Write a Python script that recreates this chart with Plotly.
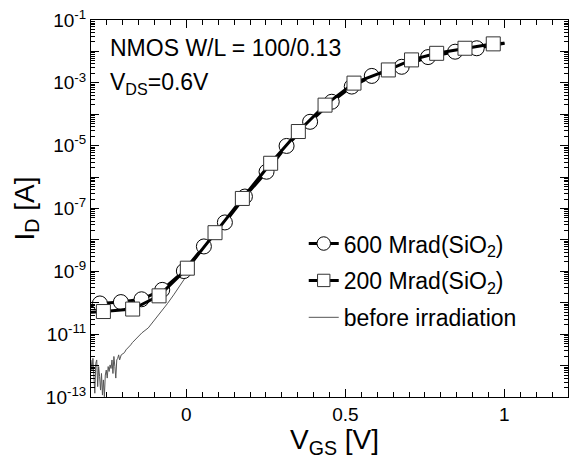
import plotly.graph_objects as go

# ---- data ----
vgs_600 = [-0.300, -0.272, -0.206, -0.141, -0.076, -0.008, 0.055, 0.121, 0.184, 0.252,
           0.315, 0.389, 0.457, 0.520, 0.583, 0.677, 0.760, 0.845, 0.913, 1.000]
id_600 = [7.6e-11, 9.5e-11, 1.05e-10, 1.29e-10, 2.57e-10, 1.02e-9, 6.2e-9, 3.6e-8, 2.4e-7, 1.48e-6,
          9.8e-6, 5.75e-5, 2.5e-4, 7.6e-4, 1.66e-3, 3.24e-3, 6.6e-3, 9.8e-3, 1.26e-2, 1.82e-2]

vgs_200 = [-0.300, -0.261, -0.169, -0.086, 0.003, 0.090, 0.176, 0.265, 0.352, 0.436,
           0.527, 0.635, 0.708, 0.787, 0.876, 0.965, 1.000]
id_200 = [5.0e-11, 5.25e-11, 6.3e-11, 1.66e-10, 1.26e-9, 1.7e-8, 2.09e-7, 2.75e-6, 2.82e-5, 1.95e-4,
          9.8e-4, 2.57e-3, 5.37e-3, 8.7e-3, 1.26e-2, 1.74e-2, 1.82e-2]

vgs_pre = [-0.300, -0.297, -0.294, -0.291, -0.288, -0.285, -0.282, -0.279, -0.276, -0.273,
           -0.270, -0.267, -0.264, -0.261, -0.258, -0.255, -0.252, -0.249, -0.246, -0.243,
           -0.240, -0.237, -0.234, -0.231, -0.228, -0.225, -0.222, -0.219, -0.216, -0.213,
           -0.210, -0.205, -0.200, -0.195, -0.190, -0.185, -0.180, -0.175, -0.170, -0.160,
           -0.150, -0.140, -0.120, -0.100, -0.080, -0.060, -0.040, -0.020, 0.000, 0.020,
           0.050, 0.100, 0.150, 0.200, 0.250, 0.300, 0.350, 0.400, 0.500, 0.600,
           0.700, 0.800, 0.900, 1.000]
id_pre = [1.51e-12, 7.2e-13, 1.70e-12, 3.5e-13, 1.32e-13, 1.17e-12, 1.51e-12, 2.14e-13, 9.3e-13, 4.5e-13,
          1.66e-13, 5.6e-13, 1.15e-13, 3.5e-13, 1.02e-13, 5.0e-13, 7.2e-13, 4.0e-13, 9.3e-13, 6.5e-13,
          1.05e-12, 8.1e-13, 1.51e-12, 5.6e-13, 1.95e-12, 9.3e-13, 4.0e-13, 1.51e-12, 1.70e-12, 2.19e-12,
          1.51e-12, 2.19e-12, 2.34e-12, 2.57e-12, 3.16e-12, 3.55e-12, 3.80e-12, 4.57e-12, 5.37e-12, 6.8e-12,
          8.5e-12, 1.10e-11, 1.58e-11, 2.82e-11, 5.0e-11, 9.3e-11, 1.78e-10, 3.55e-10, 7.1e-10, 1.78e-9,
          5.2e-9, 2.24e-8, 1.0e-7, 4.0e-7, 1.41e-6, 6.3e-6, 2.5e-5, 7.9e-5, 5.6e-4, 1.78e-3,
          4.8e-3, 8.9e-3, 1.41e-2, 1.82e-2]

x_tick_vals = [0, 0.5, 1]
x_tick_text = ["0", "0.5", "1"]
y_exponents = list(range(-13, 0))
y_tick_text = [("10<sup>%d</sup>" % e) if e % 2 != 0 else "" for e in y_exponents]

FONT = "Liberation Sans, Arial, sans-serif"

# plot area in pixels
L, R, T, B = 91, 568, 20, 397
PW, PH = R - L, B - T

def px_x(px):
    return (px - L) / PW

def px_y(py):
    return (B - py) / PH

def marker_sizes(n, s):
    return [0] + [s] * (n - 2) + [0]

fig = go.Figure()
fig.add_trace(go.Scatter(
    x=vgs_pre, y=id_pre, mode="lines", name="before irradiation",
    line=dict(color="#555555", width=1), legendrank=3, legendgroup="c"))
fig.add_trace(go.Scatter(
    x=vgs_600, y=id_600, mode="lines+markers", name="600 Mrad(SiO<sub>2</sub>)",
    line=dict(color="black", width=3),
    marker=dict(symbol="circle", size=marker_sizes(len(vgs_600), 15), color="white", opacity=1,
                line=dict(color="black", width=1)),
    legendrank=1, legendgroup="a"))
fig.add_trace(go.Scatter(
    x=vgs_200, y=id_200, mode="lines+markers", name="200 Mrad(SiO<sub>2</sub>)",
    line=dict(color="black", width=3),
    marker=dict(symbol="square", size=marker_sizes(len(vgs_200), 14), color="white", opacity=1,
                line=dict(color="#333333", width=1)),
    legendrank=2, legendgroup="b"))

minor_y = [k * 10.0 ** e for e in range(-13, -1) for k in range(2, 10)]

fig.update_layout(
    width=569, height=464,
    margin=dict(l=L, r=569 - R, t=T, b=464 - B),
    paper_bgcolor="white", plot_bgcolor="white",
    font=dict(family=FONT, color="black", size=19),
    showlegend=True,
    legend=dict(x=0.446, y=0.464, xanchor="left", yanchor="top",
                bgcolor="rgba(0,0,0,0)", font=dict(size=23, family=FONT),
                traceorder="grouped", tracegroupgap=4, itemwidth=30),
    xaxis=dict(range=[-0.3, 1.2], showgrid=False, zeroline=False, automargin=False,
               showline=True, linecolor="black", linewidth=1, mirror="ticks",
               ticks="inside", ticklen=8, tickcolor="black",
               tickmode="array", tickvals=x_tick_vals, ticktext=x_tick_text,
               tickfont=dict(size=19),
               minor=dict(ticks="inside", ticklen=5, tickcolor="black", dtick=0.05, tick0=0, showgrid=False)),
    yaxis=dict(type="log", range=[-13, -1], showgrid=False, zeroline=False, automargin=False,
               showline=True, linecolor="black", linewidth=1, mirror="ticks",
               ticks="inside", ticklen=8, tickcolor="black",
               tickmode="array", tickvals=[10.0 ** e for e in y_exponents], ticktext=y_tick_text,
               tickfont=dict(size=19),
               minor=dict(ticks="inside", ticklen=4, tickcolor="black", tickmode="array",
                          tickvals=minor_y, showgrid=False),
               title=dict(text="I<sub>D</sub> [A]", font=dict(size=28), standoff=3)),
)

# x-axis title as annotation (sits close to tick labels as in the reference)
fig.add_annotation(text="V<sub>GS</sub> [V]", xref="paper", yref="paper",
                   x=px_x(334), y=px_y(422), xanchor="center", yanchor="top",
                   showarrow=False, font=dict(size=28))

fig.add_annotation(text="NMOS W/L = 100/0.13", xref="paper", yref="paper",
                   x=px_x(108), y=px_y(33), xanchor="left", yanchor="top",
                   showarrow=False, font=dict(size=23))
fig.add_annotation(text="V<sub>DS</sub>=0.6V", xref="paper", yref="paper",
                   x=px_x(108), y=px_y(67), xanchor="left", yanchor="top",
                   showarrow=False, font=dict(size=23))

fig.write_html("out.html", config={"displayModeBar": False},
               post_script="document.body.style.margin='0';")
